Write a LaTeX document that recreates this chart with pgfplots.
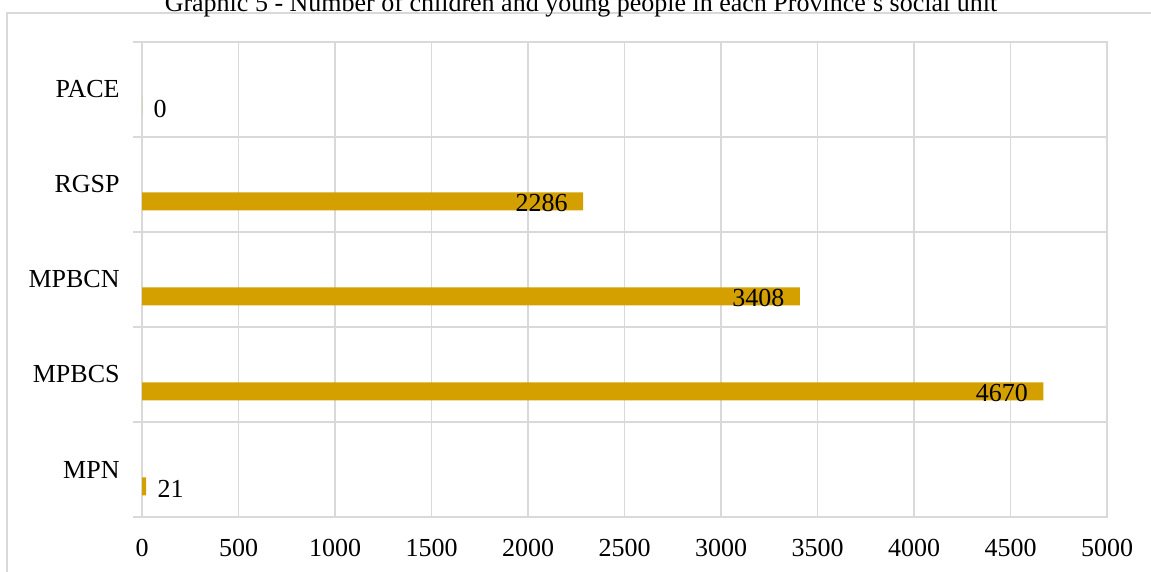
\documentclass[border=0pt]{standalone}
\usepackage{fontspec}
\setmainfont{Liberation Serif}
\usepackage{pgfplots}
\pgfplotsset{compat=1.18}
\definecolor{gridgray}{HTML}{D9D9D9}
\definecolor{bargold}{HTML}{D4A000}
\begin{document}
\begin{tikzpicture}
\useasboundingbox (0,0) rectangle (575.5pt,286pt);
\clip (0,0) rectangle (575.5pt,286pt);
\begin{axis}[
  at={(71pt,27.5pt)}, anchor=south west,
  scale only axis, width=482.5pt, height=237.5pt,
  xmin=0, xmax=5000, ymin=-0.5, ymax=4.5,
  xtick={0,500,...,5000},
  ytick={0,1,2,3,4},
  yticklabels={MPN,MPBCS,MPBCN,RGSP,PACE},
  minor ytick={-0.5,0.5,1.5,2.5,3.5,4.5},
  xmajorgrids=true, ymajorgrids=false, yminorgrids=true,
  grid style={draw=gridgray, line width=0.6pt},
  minor grid style={draw=gridgray, line width=0.6pt},
  axis line style={draw=gridgray, line width=0.6pt},
  tick align=outside, xtick pos=bottom, ytick pos=left,
  major tick length=0pt, minor tick length=4.5pt,
  minor tick style={draw=gridgray, line width=0.6pt},
  scaled x ticks=false,
  /pgf/number format/assume math mode=true,
  /pgf/number format/set thousands separator={},
  tick label style={font=\fontsize{13}{15}\selectfont, text=black},
  xticklabel style={yshift=-7.67pt},
  yticklabel style={xshift=-7.67pt},
  point meta=x,
  clip=false,
]
% long bars: value written inside the bar end
\addplot[xbar, fill=bargold, draw=none, bar width=9pt, bar shift=-8.5pt,
  nodes near coords,
  nodes near coords style={anchor=east, xshift=-4.2pt, yshift=-9.3pt,
    font=\fontsize{13}{15}\selectfont, text=black}]
  coordinates {(4670,1) (3408,2) (2286,3)};
% short bars: value written just past the bar end
\addplot[xbar, fill=bargold, draw=none, bar width=9pt, bar shift=-8.5pt,
  nodes near coords,
  nodes near coords style={anchor=west, xshift=2.3pt, yshift=-9.6pt,
    font=\fontsize{13}{15}\selectfont, text=black}]
  coordinates {(21,0) (0,4)};
\end{axis}
% chart frame
\draw[gridgray, line width=0.6pt] (3.5pt,-2pt) -- (3.5pt,279.5pt) -- (580pt,279.5pt);
\node[anchor=base, inner sep=0pt, font=\fontsize{13}{15}\selectfont] at (290.5pt,280.3pt)
  {Graphic 5 - Number of children and young people in each Province's social unit};
\end{tikzpicture}
\end{document}
